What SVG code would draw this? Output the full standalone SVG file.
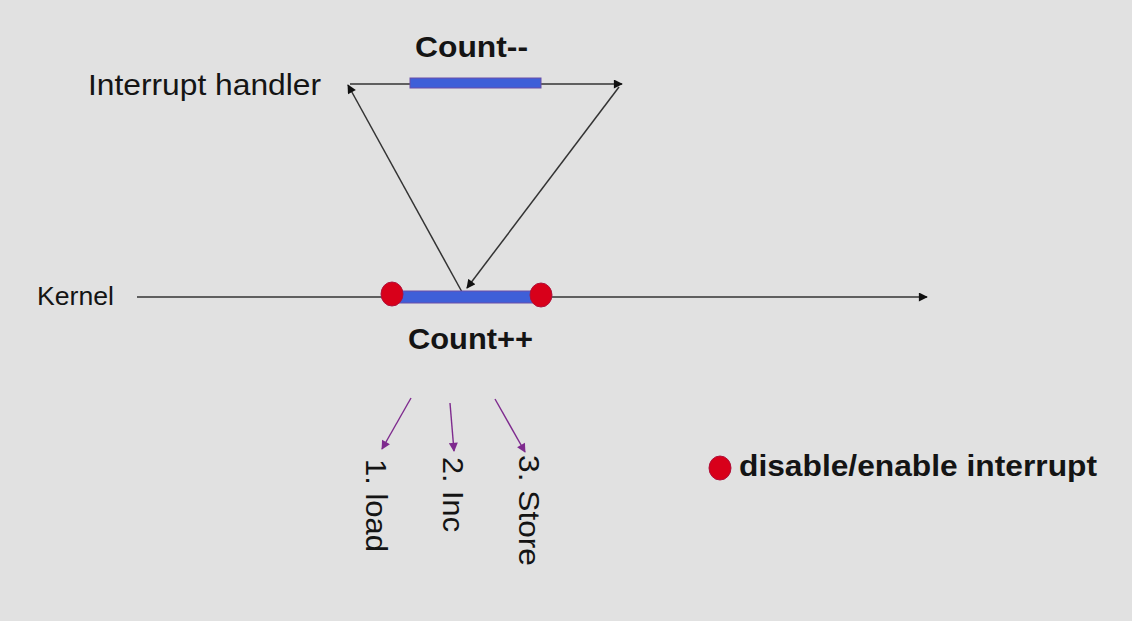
<svg xmlns="http://www.w3.org/2000/svg" width="1132" height="621" viewBox="0 0 1132 621">
<style>
.t{font-family:"Liberation Sans",Arial,sans-serif;font-size:30px;fill:#141414}
.b{font-weight:bold}
.ln{stroke:#333;stroke-width:1.5;fill:none}
.pl{stroke:#7e2a8e;stroke-width:1.4;fill:none}
.bar{fill:#3f5fd8;stroke:#6a4fa8;stroke-width:1}
.dot{fill:#d8001a;stroke:#b0103a;stroke-width:1}
</style>
<defs>
<marker id="ah" viewBox="0 0 10 10" refX="9" refY="5" markerWidth="10" markerHeight="9" markerUnits="userSpaceOnUse" orient="auto"><path d="M0,0 L10,5 L0,10 z" fill="#111"/></marker>
<marker id="ap" viewBox="0 0 10 10" refX="9" refY="5" markerWidth="10" markerHeight="9" markerUnits="userSpaceOnUse" orient="auto"><path d="M0,0 L10,5 L0,10 z" fill="#7e2a8e"/></marker>
</defs>
<rect width="1132" height="621" fill="#e1e1e1"/>
<g id="connectors">
<line class="ln" x1="350" y1="84" x2="622" y2="84" marker-end="url(#ah)"/>
<line class="ln" x1="137" y1="297" x2="927" y2="297" marker-end="url(#ah)"/>
<line class="ln" x1="619" y1="87" x2="467" y2="288" marker-end="url(#ah)"/>
<line class="ln" x1="462" y1="292" x2="348" y2="85" marker-end="url(#ah)"/>
<line class="pl" x1="411" y1="398" x2="382" y2="449" marker-end="url(#ap)"/>
<line class="pl" x1="450" y1="403" x2="454" y2="451" marker-end="url(#ap)"/>
<line class="pl" x1="495" y1="399" x2="525" y2="452" marker-end="url(#ap)"/>
</g>
<g id="interrupt-handler">
<text class="t" x="88" y="95" textLength="233" lengthAdjust="spacingAndGlyphs">Interrupt handler</text>
<rect class="bar" x="410" y="78" width="131" height="10"/>
<text class="t b" x="415" y="57" textLength="113" lengthAdjust="spacingAndGlyphs">Count--</text>
</g>
<g id="kernel">
<text class="t" x="37" y="305" style="font-size:26px" textLength="77" lengthAdjust="spacingAndGlyphs">Kernel</text>
<rect class="bar" x="392" y="291" width="149" height="12"/>
<ellipse class="dot" cx="392" cy="294" rx="11" ry="12"/>
<ellipse class="dot" cx="541" cy="295" rx="11" ry="12"/>
<text class="t b" x="408" y="349" textLength="125" lengthAdjust="spacingAndGlyphs">Count++</text>
</g>
<g id="steps">
<text class="t" transform="translate(366,459) rotate(90)" textLength="93" lengthAdjust="spacingAndGlyphs">1. load</text>
<text class="t" transform="translate(443,457) rotate(90)" textLength="75" lengthAdjust="spacingAndGlyphs">2. Inc</text>
<text class="t" transform="translate(519,455) rotate(90)" textLength="111" lengthAdjust="spacingAndGlyphs">3. Store</text>
</g>
<g id="legend">
<ellipse class="dot" cx="720" cy="468" rx="11" ry="12"/>
<text class="t b" x="739" y="476" textLength="358" lengthAdjust="spacingAndGlyphs">disable/enable interrupt</text>
</g>
</svg>
